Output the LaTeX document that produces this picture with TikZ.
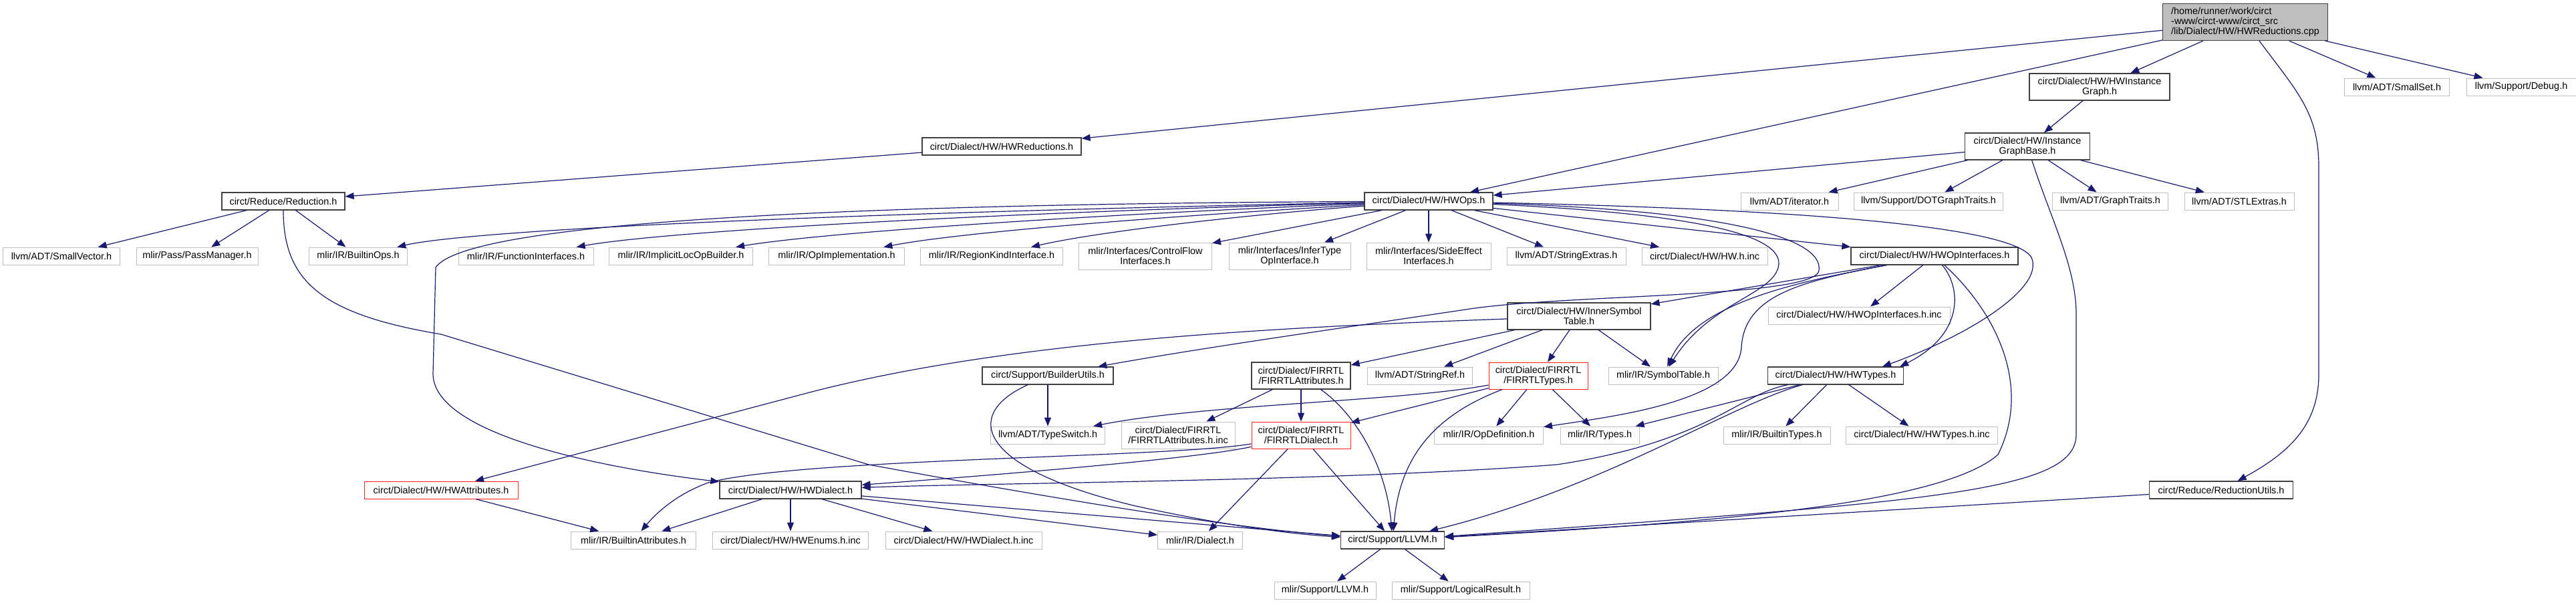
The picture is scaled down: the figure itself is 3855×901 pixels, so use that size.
\documentclass[tikz,border=0pt]{standalone}
\usepackage{fontspec}
\setmainfont{Liberation Sans}
\usetikzlibrary{arrows.meta,calc}
\definecolor{edgeblue}{HTML}{191970}
\definecolor{greyborder}{HTML}{BFBFBF}
\definecolor{darkborder}{HTML}{404040}
\definecolor{redborder}{HTML}{FF2020}
\tikzset{
    hfile/.style={draw=darkborder, line width=0.6pt, fill=white, inner sep=0pt,
                  minimum height=13pt, align=center,
                  font=\fontsize{7.2}{7.4}\selectfont},
    extfile/.style={hfile, draw=greyborder, line width=0.5pt},
    redfile/.style={hfile, draw=redborder, line width=0.5pt},
    srcfile/.style={hfile, fill=greyborder, align=left, minimum height=27.5pt},
    twoline/.style={minimum height=20pt},
    wd/.style={minimum width=#1*0.5pt},
    dep/.style={draw=edgeblue, line width=0.6pt,
                -{Triangle[length=6.5pt,width=5pt]}},
}

\begin{document}
\begin{tikzpicture}[x=0.5pt,y=-0.5pt]
    \useasboundingbox (0,0) rectangle (3855,901);

    % top rows
    \node[srcfile, wd=247] (root) at (3360,33)
        {/home/runner/work/circt\\-www/circt-www/circt\_src\\/lib/Dialect/HW/HWReductions.cpp};
    \node[hfile, twoline, wd=210] (hwinstgraph) at (3142,130) {circt/Dialect/HW/HWInstance\\Graph.h};
    \node[extfile, wd=157] (smallset) at (3587,130) {llvm/ADT/SmallSet.h};
    \node[extfile, wd=164] (debug) at (3773,130) {llvm/Support/Debug.h};
    \node[hfile, wd=238] (hwreductions) at (1499,219) {circt/Dialect/HW/HWReductions.h};
    \node[hfile, twoline, wd=187] (instgraphbase) at (3034,219) {circt/Dialect/HW/Instance\\GraphBase.h};

    \node[hfile, wd=184] (reduction) at (424,301) {circt/Reduce/Reduction.h};
    \node[hfile, wd=192] (hwops) at (2138,301) {circt/Dialect/HW/HWOps.h};
    \node[extfile, wd=146] (iterator) at (2678,301) {llvm/ADT/iterator.h};
    \node[extfile, wd=223] (dotgraphtraits) at (2886,301) {llvm/Support/DOTGraphTraits.h};
    \node[extfile, wd=173] (graphtraits) at (3158,301) {llvm/ADT/GraphTraits.h};
    \node[extfile, wd=164] (stlextras) at (3351,301) {llvm/ADT/STLExtras.h};

    \node[extfile, wd=175] (smallvector) at (92,383) {llvm/ADT/SmallVector.h};
    \node[extfile, wd=182] (passmanager) at (295,383) {mlir/Pass/PassManager.h};
    \node[extfile, wd=147] (builtinops) at (536,383) {mlir/IR/BuiltinOps.h};
    \node[extfile, wd=202] (funcinterfaces) at (787,383) {mlir/IR/FunctionInterfaces.h};
    \node[extfile, wd=215] (implicitloc) at (1019,383) {mlir/IR/ImplicitLocOpBuilder.h};
    \node[extfile, wd=203] (opimpl) at (1252,383) {mlir/IR/OpImplementation.h};
    \node[extfile, wd=213] (regionkind) at (1484,383) {mlir/IR/RegionKindInterface.h};
    \node[extfile, twoline, wd=199] (controlflow) at (1714,383) {mlir/Interfaces/ControlFlow\\Interfaces.h};
    \node[extfile, twoline, wd=182] (infertype) at (1930,383) {mlir/Interfaces/InferType\\OpInterface.h};
    \node[extfile, twoline, wd=186] (sideeffect) at (2138,383) {mlir/Interfaces/SideEffect\\Interfaces.h};
    \node[extfile, wd=178] (stringextras) at (2344,383) {llvm/ADT/StringExtras.h};
    \node[extfile, wd=188] (hwinc) at (2551,383) {circt/Dialect/HW/HW.h.inc};
    \node[hfile, wd=250] (hwopinterfaces) at (2895,383) {circt/Dialect/HW/HWOpInterfaces.h};

    % middle rows
    \node[hfile, twoline, wd=214] (innersymtable) at (2363,473) {circt/Dialect/HW/InnerSymbol\\Table.h};
    \node[extfile, wd=272] (hwopinterfacesinc) at (2782,472) {circt/Dialect/HW/HWOpInterfaces.h.inc};

    \node[hfile, wd=196] (builderutils) at (1568,562) {circt/Support/BuilderUtils.h};
    \node[hfile, twoline, wd=148] (firrtlattributes) at (1947,562) {circt/Dialect/FIRRTL\\/FIRRTLAttributes.h};
    \node[extfile, wd=157] (stringref) at (2125,562) {llvm/ADT/StringRef.h};
    \node[redfile, twoline, wd=148] (firrtltypes) at (2302,562) {circt/Dialect/FIRRTL\\/FIRRTLTypes.h};
    \node[extfile, wd=164] (symboltable) at (2489,562) {mlir/IR/SymbolTable.h};
    \node[hfile, wd=203] (hwtypes) at (2747,562) {circt/Dialect/HW/HWTypes.h};

    \node[extfile, wd=171] (typeswitch) at (1568,651) {llvm/ADT/TypeSwitch.h};
    \node[extfile, twoline, wd=170] (firrtlattrinc) at (1763,651) {circt/Dialect/FIRRTL\\/FIRRTLAttributes.h.inc};
    \node[redfile, twoline, wd=148] (firrtldialect) at (1947,651) {circt/Dialect/FIRRTL\\/FIRRTLDialect.h};
    \node[extfile, wd=163] (opdefinition) at (2228,651) {mlir/IR/OpDefinition.h};
    \node[extfile, wd=118] (mlirtypes) at (2394,651) {mlir/IR/Types.h};
    \node[extfile, wd=160] (builtintypes) at (2659,651) {mlir/IR/BuiltinTypes.h};
    \node[extfile, wd=227] (hwtypesinc) at (2876,651) {circt/Dialect/HW/HWTypes.h.inc};

    % bottom rows
    \node[redfile, wd=230] (hwattributes) at (660,733) {circt/Dialect/HW/HWAttributes.h};
    \node[hfile, wd=212] (hwdialect) at (1183,733) {circt/Dialect/HW/HWDialect.h};
    \node[hfile, wd=215] (reductionutils) at (3324,733) {circt/Reduce/ReductionUtils.h};

    \node[extfile, wd=187] (builtinattributes) at (948,808) {mlir/IR/BuiltinAttributes.h};
    \node[extfile, wd=233] (hwenumsinc) at (1183,808) {circt/Dialect/HW/HWEnums.h.inc};
    \node[extfile, wd=234] (hwdialectinc) at (1442,808) {circt/Dialect/HW/HWDialect.h.inc};
    \node[extfile, wd=127] (mlirdialect) at (1796,808) {mlir/IR/Dialect.h};
    \node[hfile, wd=155] (llvmh) at (2084,808) {circt/Support/LLVM.h};

    \node[extfile, wd=152] (mlirllvm) at (1983,883) {mlir/Support/LLVM.h};
    \node[extfile, wd=206] (logicalresult) at (2186,883) {mlir/Support/LogicalResult.h};

    % includes of the source file
    \draw[dep] (root) -- (hwreductions);
    \draw[dep] (root) -- (hwops);
    \draw[dep] (root) -- (hwinstgraph);
    \draw[dep] (root) -- (smallset);
    \draw[dep] (root) -- (debug);
    \draw[dep] (root) .. controls (3440,140) and (3470,170) .. (3470,250)
        -- (3470,560) .. controls (3470,640) and (3420,680) .. (reductionutils);

    \draw[dep] (hwreductions) -- (reduction);
    \draw[dep] (hwinstgraph) -- (instgraphbase);

    \draw[dep] (instgraphbase) -- (hwops);
    \draw[dep] (instgraphbase) -- (iterator);
    \draw[dep] (instgraphbase) -- (dotgraphtraits);
    \draw[dep] (instgraphbase) -- (graphtraits);
    \draw[dep] (instgraphbase) -- (stlextras);
    \draw[dep] (instgraphbase) .. controls (3070,330) and (3107,400) .. (3107,470)
        -- (3107,650) .. controls (3107,735) and (2900,750) .. (llvmh);

    \draw[dep] (reduction) -- (smallvector);
    \draw[dep] (reduction) -- (passmanager);
    \draw[dep] (reduction) -- (builtinops);
    \draw[dep] (reduction) .. controls (424,420) and (480,470) .. (660,500)
        -- (1300,695) .. controls (1600,750) and (1850,790) .. (llvmh);

    % HWOps.h
    \draw[dep] (hwops) .. controls (1200,320) and (700,345) .. (builtinops);
    \draw[dep] (hwops) .. controls (1500,318) and (1000,345) .. (funcinterfaces);
    \draw[dep] (hwops) .. controls (1700,318) and (1250,345) .. (implicitloc);
    \draw[dep] (hwops) .. controls (1800,320) and (1450,345) .. (opimpl);
    \draw[dep] (hwops) .. controls (1880,320) and (1650,345) .. (regionkind);
    \draw[dep] (hwops) -- (controlflow);
    \draw[dep] (hwops) -- (infertype);
    \draw[dep] (hwops) -- (sideeffect);
    \draw[dep] (hwops) -- (stringextras);
    \draw[dep] (hwops) -- (hwinc);
    \draw[dep] (hwops) -- (hwopinterfaces);
    \draw[dep] (hwops) .. controls (1300,305) and (700,330) .. (652,400)
        -- (648,560) .. controls (650,650) and (900,700) .. (hwdialect);
    \draw[dep] (hwops) .. controls (2650,312) and (3010,335) .. (3040,385)
        .. controls (3060,430) and (2950,500) .. ($(hwtypes.north)+(70,0)$);
    \draw[dep] (hwops) .. controls (2500,318) and (2665,345) .. (2662,395)
        .. controls (2658,440) and (2560,450) .. (symboltable);
    \draw[dep] (hwops) .. controls (2580,315) and (2730,355) .. (2722,405)
        .. controls (2715,445) and (2350,440) .. (2200,462)
        .. controls (2000,492) and (1800,520) .. (builderutils);

    % HWOpInterfaces.h
    \draw[dep] (hwopinterfaces) -- (hwopinterfacesinc);
    \draw[dep] (hwopinterfaces) -- (innersymtable);
    \draw[dep] (hwopinterfaces) .. controls (2700,420) and (2540,450) .. (symboltable);
    \draw[dep] (hwopinterfaces) .. controls (2700,420) and (2610,440) .. (2606,520)
        .. controls (2600,600) and (2420,622) .. (opdefinition);
    \draw[dep] (hwopinterfaces) .. controls (2935,430) and (2940,500) .. ($(hwtypes.north east)+(-6,0)$);
    \draw[dep] (hwopinterfaces) .. controls (2990,470) and (3040,580) .. (2990,680)
        .. controls (2900,760) and (2500,785) .. (llvmh);

    % InnerSymbolTable.h
    \draw[dep] (innersymtable) .. controls (1900,490) and (1500,510) .. (1200,590) -- (hwattributes);
    \draw[dep] (innersymtable) -- (firrtlattributes);
    \draw[dep] (innersymtable) -- (stringref);
    \draw[dep] (innersymtable) -- (firrtltypes);
    \draw[dep] (innersymtable) -- (symboltable);

    \draw[dep] (builderutils) -- (typeswitch);
    \draw[dep] (builderutils) .. controls (1440,620) and (1460,700) .. (1700,757)
        .. controls (1850,790) and (1950,800) .. (llvmh);

    % FIRRTL headers
    \draw[dep] (firrtlattributes) -- (firrtlattrinc);
    \draw[dep] (firrtlattributes) -- (firrtldialect);
    \draw[dep] (firrtlattributes) .. controls (2030,620) and (2075,700) .. (llvmh);
    \draw[dep] (firrtltypes) .. controls (2100,600) and (1800,605) .. (typeswitch);
    \draw[dep] (firrtltypes) -- (firrtldialect);
    \draw[dep] (firrtltypes) .. controls (2150,620) and (2095,680) .. (llvmh);
    \draw[dep] (firrtltypes) -- (opdefinition);
    \draw[dep] (firrtltypes) -- (mlirtypes);
    \draw[dep] (firrtldialect) .. controls (1800,685) and (1500,710) .. (hwdialect);
    \draw[dep] (firrtldialect) .. controls (1750,685) and (1200,685) .. (1060,722)
        .. controls (1010,740) and (980,770) .. (builtinattributes);
    \draw[dep] (firrtldialect) -- (mlirdialect);
    \draw[dep] (firrtldialect) -- (llvmh);

    % HWTypes.h
    \draw[dep] (hwtypes) -- (builtintypes);
    \draw[dep] (hwtypes) -- (hwtypesinc);
    \draw[dep] (hwtypes) -- (mlirtypes);
    \draw[dep] (hwtypes) .. controls (2600,590) and (2560,660) .. (2330,695)
        .. controls (2000,720) and (1500,722) .. (hwdialect);
    \draw[dep] (hwtypes) .. controls (2590,605) and (2400,730) .. (llvmh);

    \draw[dep] (hwattributes) -- (builtinattributes);
    \draw[dep] (hwdialect) -- (builtinattributes);
    \draw[dep] (hwdialect) -- (hwenumsinc);
    \draw[dep] (hwdialect) -- (hwdialectinc);
    \draw[dep] (hwdialect) -- (mlirdialect);
    \draw[dep] (hwdialect) -- (llvmh);
    \draw[dep] (reductionutils) -- (llvmh);

    \draw[dep] (llvmh) -- (mlirllvm);
    \draw[dep] (llvmh) -- (logicalresult);
\end{tikzpicture}
\end{document}
